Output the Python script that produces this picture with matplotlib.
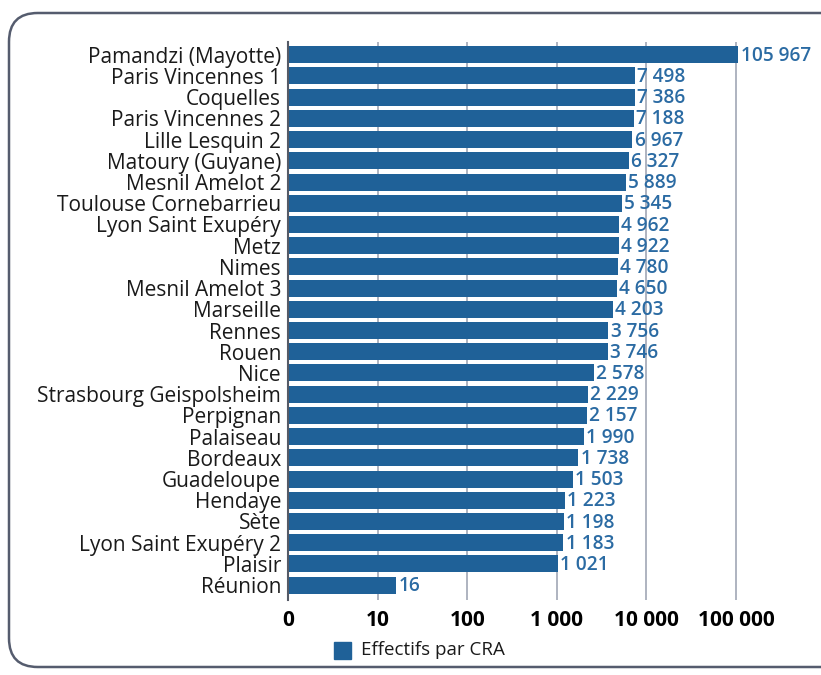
import numpy as np
import matplotlib
matplotlib.use("Agg")
import matplotlib.pyplot as plt
from matplotlib.patches import FancyBboxPatch
from matplotlib.ticker import FixedLocator, FixedFormatter

plt.rcParams['font.family'] = ['Open Sans', 'DejaVu Sans']

# données
centres = ["Pamandzi (Mayotte)", "Paris Vincennes 1", "Coquelles", "Paris Vincennes 2",
           "Lille Lesquin 2", "Matoury (Guyane)", "Mesnil Amelot 2", "Toulouse Cornebarrieu",
           "Lyon Saint Exupéry", "Metz", "Nimes", "Mesnil Amelot 3", "Marseille", "Rennes",
           "Rouen", "Nice", "Strasbourg Geispolsheim", "Perpignan", "Palaiseau", "Bordeaux",
           "Guadeloupe", "Hendaye", "Sète", "Lyon Saint Exupéry 2", "Plaisir", "Réunion"]
effectifs = [105967, 7498, 7386, 7188, 6967, 6327, 5889, 5345, 4962, 4922, 4780, 4650, 4203,
             3756, 3746, 2578, 2229, 2157, 1990, 1738, 1503, 1223, 1198, 1183, 1021, 16]
tick_values = [1, 10, 100, 1000, 10000, 100000]
tick_labels = ["0", "10", "100", "1 000", "10 000", "100 000"]
legend_label = "Effectifs par CRA"

bar_color = "#1f6198"
label_color = "#2b6ba3"
grid_color = "#aeb3c0"

W, H = 821, 675
fig = plt.figure(figsize=(W / 100, H / 100), dpi=100)

# cadre arrondi (derrière les axes)
frame = FancyBboxPatch((9 / W, 8 / H), (W + 40) / W, (H - 21) / H,
                       boxstyle="round,pad=0,rounding_size=0.035",
                       transform=fig.transFigure, facecolor="white",
                       edgecolor="#555c6e", linewidth=1.8, mutation_aspect=W / H,
                       zorder=-5)
fig.patches.append(frame)

ax = fig.add_axes([288 / W, 1 - 600 / H, (800 - 288) / W, (600 - 42) / H])
ax.set_facecolor("none")
ax.set_zorder(2)

y = np.arange(len(centres))
ax.barh(y, effectifs, height=0.8, color=bar_color, zorder=3, left=0)
ax.set_xscale("log")
ax.set_xlim(1, 10 ** ((800 - 288) / 89.6))
ax.set_ylim(len(centres) - 0.5 + 0.2, -0.5 - 0.1)

ax.set_yticks(y)
ax.set_yticklabels(centres, fontsize=15, color="#1a1a1a")
ax.tick_params(axis="y", length=0, pad=5)

ax.xaxis.set_major_locator(FixedLocator(tick_values))
ax.xaxis.set_major_formatter(FixedFormatter(tick_labels))
ax.xaxis.set_minor_locator(FixedLocator([]))
ax.tick_params(axis="x", length=0, pad=7, labelsize=15)
for lbl in ax.get_xticklabels():
    lbl.set_fontweight("bold")

ax.grid(axis="x", color=grid_color, linewidth=1.4, zorder=0)
for side in ["top", "right", "bottom"]:
    ax.spines[side].set_visible(False)
ax.spines["left"].set_color("#555a66")
ax.spines["left"].set_linewidth(1.5)
ax.spines["left"].set_zorder(4)

for yi, v in zip(y, effectifs):
    txt = f"{v:,}".replace(",", " ")
    ax.text(v * 1.06, yi + 0.05, txt, va="center", ha="left", fontsize=13.7,
            fontweight="semibold", color=label_color, zorder=5)

# légende
fig.patches.append(plt.Rectangle((334 / W, 1 - 659 / H), 17 / W, 17 / H,
                                 transform=fig.transFigure, color=bar_color))
fig.text(361 / W, 1 - 650 / H, legend_label, fontsize=13.5, va="center",
         ha="left", color="#1a1a1a")

fig.savefig("out.png", dpi=100)
